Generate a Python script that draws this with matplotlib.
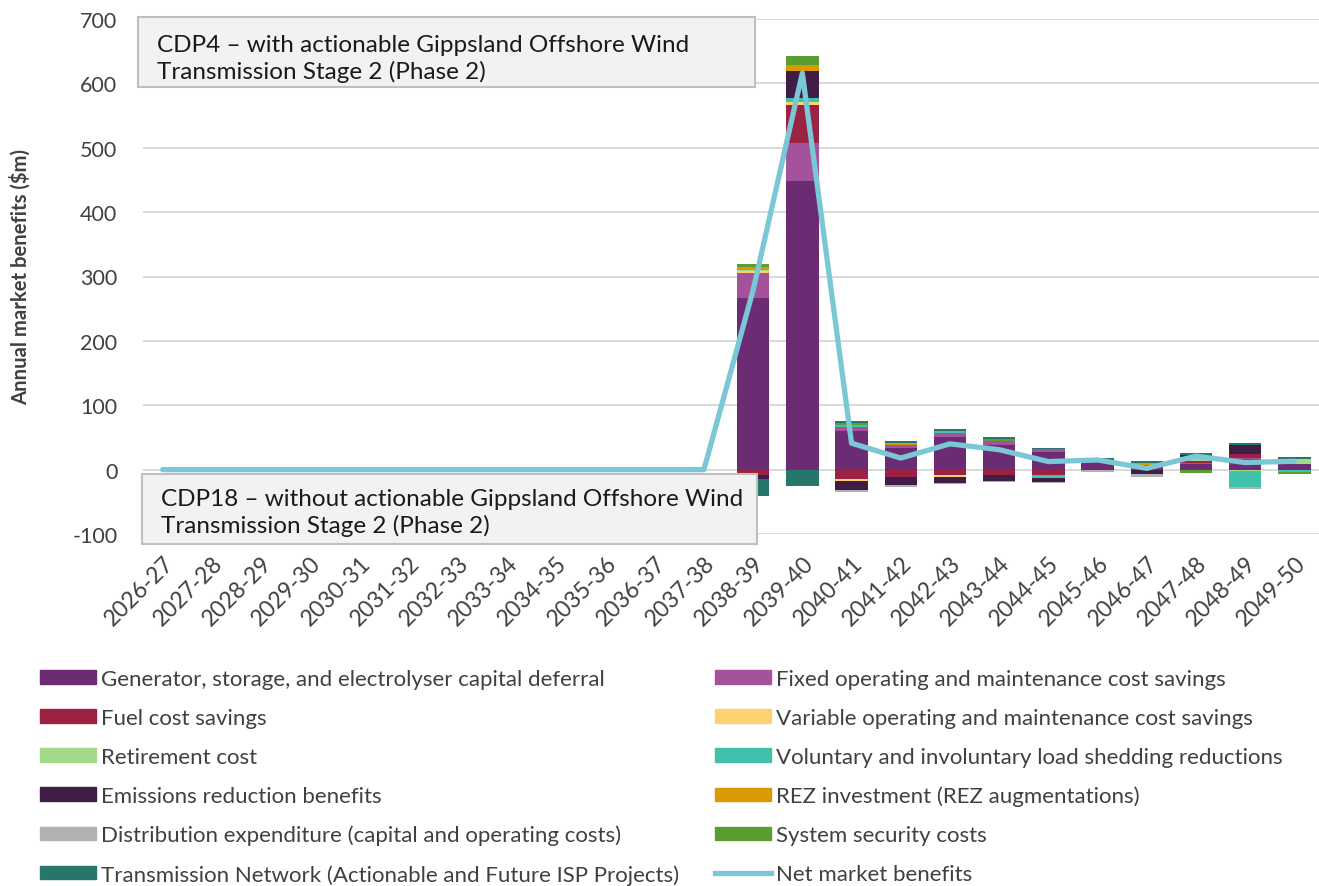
import matplotlib
matplotlib.use('Agg')
import matplotlib.pyplot as plt
from matplotlib.patches import Rectangle, Patch
from matplotlib.lines import Line2D
import numpy as np

plt.rcParams['font.family'] = ['Lato', 'DejaVu Sans']
plt.rcParams['axes.unicode_minus'] = False

years = ['2026-27', '2027-28', '2028-29', '2029-30', '2030-31', '2031-32',
         '2032-33', '2033-34', '2034-35', '2035-36', '2036-37', '2037-38',
         '2038-39', '2039-40', '2040-41', '2041-42', '2042-43', '2043-44',
         '2044-45', '2045-46', '2046-47', '2047-48', '2048-49', '2049-50']

# $m per year; nothing before 2038-39
pad = [0] * 12
gen_capex  = pad + [266, 449, 60, 34, 50, 38, 28, 15, 2, 8, 16, 8]
fixed_om   = pad + [39, 58, 6, 4, 7, 7, 3.5, 0, 0, 2, 2, 1]
fuel       = pad + [-9, 60, -15, -11, -9, -9, -9, -1, 5, 3, 7, 0]
var_om     = pad + [3, 4, -3, 1, -3, 0, 0, 0, 0, 0, 0, 0]
retirement = pad + [2, 0, 0, 0, 0, 0, 0, 0, 0, 7, -2, 8]
load_shed  = pad + [2, 6, 1, 0, 3, 0, -3.5, 0, 0, -1, -25, -3]
emissions  = pad + [-6, 42, -14, -13, -8, -8, -7, 0, -7, 3, 13, 0]
rez        = pad + [3, 10, 3, 3, 0, 0, 0, 0, 3, 0, 0, 0]
distrib    = pad + [0, 0, -3, -3, -3, -2, -2, -2, -4, 0, -3, 0]
sys_sec    = pad + [5, 13, 3, 0, 0, 3, 0, 0, 0, -4, 0, -4]
transm     = pad + [-26, -26, 3, 3, 3, 2, 2.5, 3, 3, 3, 3, 3]

series = [
    ('Generator, storage, and electrolyser capital deferral', gen_capex, '#6B2C74'),
    ('Fixed operating and maintenance cost savings', fixed_om, '#A4529B'),
    ('Fuel cost savings', fuel, '#9B2242'),
    ('Variable operating and maintenance cost savings', var_om, '#FCD271'),
    ('Retirement cost', retirement, '#A3D98A'),
    ('Voluntary and involuntary load shedding reductions', load_shed, '#40C1AC'),
    ('Emissions reduction benefits', emissions, '#3F1D47'),
    ('REZ investment (REZ augmentations)', rez, '#D89A00'),
    ('Distribution expenditure (capital and operating costs)', distrib, '#B1B1B1'),
    ('System security costs', sys_sec, '#5A9E32'),
    ('Transmission Network (Actionable and Future ISP Projects)', transm, '#24776A'),
]

W, H = 1319, 887
fig = plt.figure(figsize=(W / 100, H / 100), dpi=100)
ax = fig.add_axes([143 / W, 1 - 535 / H, 1 - 143 / W, (535 - 20) / H])

x = np.arange(len(years))
pos = np.zeros(len(years))
neg = np.zeros(len(years))
net = np.zeros(len(years))
for name, vals, col in series:
    v = np.array(vals, dtype=float)
    base = np.where(v >= 0, pos, neg)
    ax.bar(x, v, 0.66, bottom=base, color=col, zorder=2)
    pos += np.where(v >= 0, v, 0)
    neg += np.where(v < 0, v, 0)
    net += v

ax.plot(x, net, color='#7AC7D6', lw=3.8, zorder=3, solid_capstyle='round')

ax.set_xlim(-0.4, len(years) - 0.5)
ax.set_ylim(-100, 700)
ax.set_yticks(range(-100, 701, 100))
ax.grid(axis='y', color='#D9D9D9', lw=1.4, zorder=0)
ax.set_axisbelow(True)
for s in ax.spines.values():
    s.set_visible(False)
ax.tick_params(length=0, labelsize=15.5, colors='#404040')
ax.tick_params(axis='y', pad=18.5)
ax.set_xticks(x)
ax.set_xticklabels(years, rotation=45, ha='right', va='top',
                   rotation_mode='anchor', fontsize=16.5)
ax.tick_params(axis='x', pad=13)
ax.set_ylabel('Annual market benefits ($m)', fontsize=14.6, fontweight='bold',
              color='#404040', labelpad=30)


def fig_box(x0, y0, x1, y1, lines, mid):
    fig.patches.append(Rectangle((x0 / W, 1 - y1 / H), (x1 - x0) / W, (y1 - y0) / H,
                                 transform=fig.transFigure, facecolor='#F2F2F2',
                                 edgecolor='#BFBFBF', lw=1.5, zorder=5))
    fig.text((x0 + 19) / W, 1 - (y0 + mid) / H, lines, fontsize=17.5,
             color='#1a1a1a', va='center', ha='left', linespacing=1.3, zorder=6)


fig_box(138, 18, 755, 88, 'CDP4 – with actionable Gippsland Offshore Wind\nTransmission Stage 2 (Phase 2)', 41)
fig_box(142, 475, 757, 545, 'CDP18 – without actionable Gippsland Offshore Wind\nTransmission Stage 2 (Phase 2)', 38)

# legend, read row by row across two columns
handles = [Patch(color=c, label=n) for n, _, c in series]
handles.append(Line2D([], [], color='#7AC7D6', lw=3.8, label='Net market benefits'))
left = handles[0::2]
right = handles[1::2]
kw = dict(frameon=False, fontsize=16, handlelength=2.5, handleheight=0.55,
          handletextpad=0.25, labelspacing=0.85, borderaxespad=0, borderpad=0)
leg1 = fig.legend(handles=left, loc='upper left', bbox_to_anchor=(40 / W, 1 - 670 / H), **kw)
leg2 = fig.legend(handles=right, loc='upper left', bbox_to_anchor=(715 / W, 1 - 670 / H), **kw)
for lg in (leg1, leg2):
    for t in lg.get_texts():
        t.set_color('#404040')

fig.savefig('out.png', dpi=100)
